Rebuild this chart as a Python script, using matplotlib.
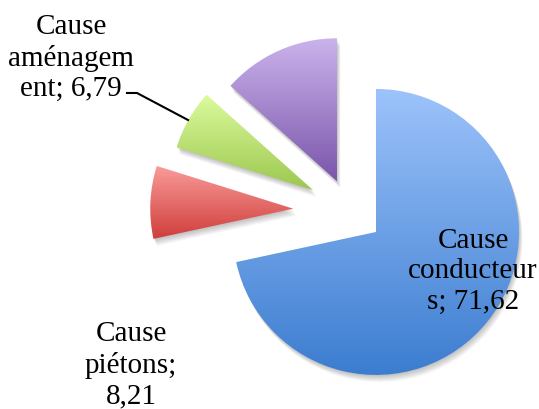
import numpy as np
import matplotlib.pyplot as plt
from matplotlib.colors import LinearSegmentedColormap
from matplotlib.patches import Wedge
from matplotlib.lines import Line2D

W, H = 539, 410

# Parts of accidents by cause (%)
categories = ['Cause conducteurs', 'Cause piétons', 'Cause aménagement', 'Autres']
values = [71.62, 8.21, 6.79, 13.38]
label_lines = ['Cause\nconducteur\ns; 71,62', 'Cause\npiétons;\n8,21',
               'Cause\naménagem\nent; 6,79', None]
explode = [0.23, 0.40, 0.30, 0.23]
top_colors = ['#9dc3fb', '#f99b98', '#dcfb9e', '#cbb4ec']
bottom_colors = ['#3c7dd0', '#cf3e3c', '#9cc74e', '#7b55ab']

# pie centre / radius in pixels (from top-left)
CX, CY, R = 350.4, 212.3, 143.0


def fig_px(x, y):
    return x / W, 1 - y / H


fig = plt.figure(figsize=(W / 100, H / 100), dpi=100)
ax = fig.add_axes([0, 0, 1, 1])

wedges, _ = ax.pie(values, explode=explode, startangle=90, counterclock=False,
                   radius=1.0, wedgeprops=dict(linewidth=0))
ax.set_xlim(-CX / R, (W - CX) / R)
ax.set_ylim(-(H - CY) / R, CY / R)
ax.set_aspect('auto')
ax.axis('off')

px = 1.0 / R
for w, c_top, c_bot in zip(wedges, top_colors, bottom_colors):
    cx, cy = w.center
    # soft drop shadow
    for k in range(1, 8):
        sh = Wedge((cx + 0.5 * k * px, cy - k * px), w.r, w.theta1, w.theta2,
                   facecolor='black', alpha=0.035, linewidth=0, zorder=0.5)
        ax.add_patch(sh)
    w.set_facecolor('none')
    w.set_zorder(2)
    # vertical gradient clipped to the slice
    t = np.radians(np.linspace(w.theta1, w.theta2, 100))
    xs = np.concatenate([[cx], cx + w.r * np.cos(t)])
    ys = np.concatenate([[cy], cy + w.r * np.sin(t)])
    cmap = LinearSegmentedColormap.from_list('g', [c_bot, c_top])
    grad = np.linspace(0, 1, 256).reshape(-1, 1)
    im = ax.imshow(grad, cmap=cmap, origin='lower', aspect='auto',
                   extent=(xs.min(), xs.max(), ys.min(), ys.max()), zorder=1,
                   interpolation='bilinear')
    im.set_clip_path(w)

font = dict(family='Liberation Serif', size=21, ha='center', va='center',
            linespacing=1.22)
label_pos = [(473, 271), (131, 365), (71, 58)]
for txt, (lx, ly) in zip(label_lines, label_pos):
    if txt:
        fig.text(*fig_px(lx, ly), txt, **font)

# leader line for the small slice
lx, ly = zip(*[fig_px(127, 94), fig_px(137, 94), fig_px(188, 121)])
fig.add_artist(Line2D(lx, ly, transform=fig.transFigure, color='black', lw=1.5))

fig.savefig('out.png', dpi=100)
